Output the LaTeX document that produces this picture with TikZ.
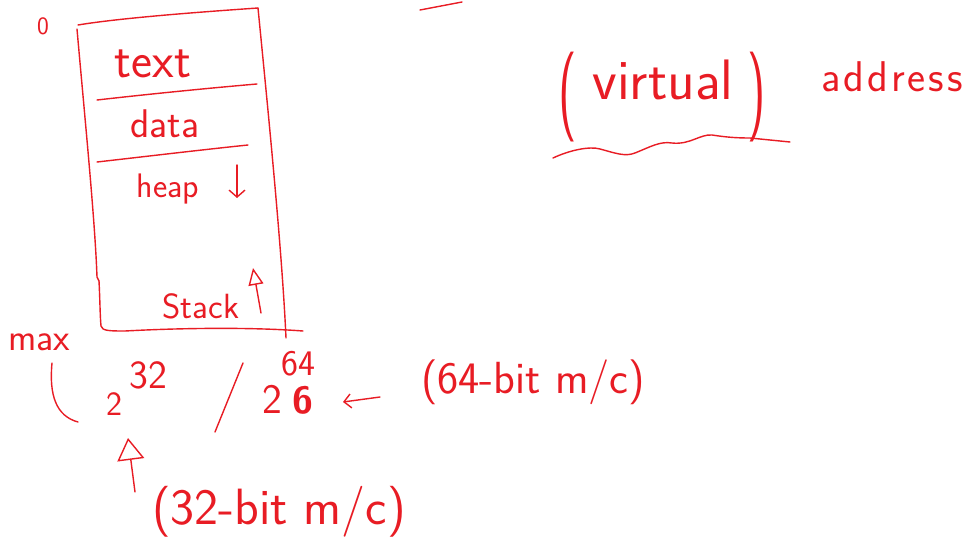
\documentclass[tikz,border=0pt]{standalone}
\usetikzlibrary{arrows.meta}
\definecolor{ink}{RGB}{232,28,36}
\newcommand\myfs[1]{\fontsize{#1}{#1}\selectfont}
\begin{document}
\begin{tikzpicture}[x=1pt,y=-1pt,
  pen/.style={draw=ink, line width=1.4pt, line cap=round, line join=round},
  lbl/.style={text=ink, inner sep=0pt, anchor=base},
  every node/.style={font=\sffamily}]
\useasboundingbox[fill=white] (0,0) rectangle (968,540);

% ---- memory layout box ----
\draw[pen] (78,25) .. controls (120,18) and (200,12) .. (258,8);
\draw[pen] (258,8) .. controls (268,110) and (282,250) .. (286,338);
\draw[pen] (77,29) .. controls (85,120) and (95,220) .. (97,277) -- (99,281);
\draw[pen] (99,281) .. controls (100,300) and (100,315) .. (101,326)
  .. controls (102,331) and (110,331) .. (125,331)
  .. controls (180,328) and (250,327) .. (303,331);
\draw[pen] (97,100) .. controls (150,94) and (210,88) .. (257,84);
\draw[pen] (97,162) .. controls (150,156) and (200,150) .. (248,145);

\node[lbl, font=\sffamily\myfs{25}] (zero) at (43,35) {0};
\node[lbl, font=\sffamily\myfs{50}] (textseg) at (153,78) {text};
\node[lbl, font=\sffamily\myfs{40}] (dataseg) at (165,138) {data};
\node[lbl, font=\sffamily\myfs{34}] (heapseg) at (168,197) {heap};
\node[lbl, font=\sffamily\myfs{35}] (stackseg) at (201,318) {Stack};

\coordinate (heapTail) at (237,165);
\coordinate (heapTip) at (237,198);
\draw[pen, -{Straight Barb[length=7pt,width=16pt]}] (heapTail) -- (heapTip);
\coordinate (stackTail) at (261,313);
\coordinate (stackTip) at (253,268);
\draw[pen, -{Triangle[open,length=17pt,width=15pt]}] (stackTail) -- (stackTip);

% ---- max address ----
\node[lbl, font=\sffamily\myfs{38}] (maxlbl) at (39,350) {max};
\draw[pen] (52,363) .. controls (49,395) and (56,416) .. (78,422);
\node[lbl, font=\sffamily\myfs{34}] (twoA) at (114,415) {2};
\node[lbl, font=\sffamily\myfs{40}] (expA) at (148,388) {32};
\draw[pen] (243,363) -- (215,432);
\node[lbl, font=\sffamily\myfs{42}] (twoB) at (272,413) {2};
\node[lbl, font=\sffamily\myfs{36}] (expB) at (298,375) {64};
\node[lbl, font=\sffamily\bfseries\myfs{38}] (scrib) at (303,413) {6};

\coordinate (arrTail) at (380,397);
\coordinate (arrTip) at (343,402);
\draw[pen, -{Straight Barb[length=7pt,width=14pt]}] (arrTail) -- (arrTip);
\node[lbl, font=\sffamily\myfs{45}] (bit64) at (533,393) {(64-bit m/c)};

\coordinate (upTail) at (135,492);
\coordinate (upTip) at (128,438);
\draw[pen, -{Triangle[open,length=22pt,width=27pt]}] (upTail) -- (upTip);
\node[lbl, font=\sffamily\myfs{51}] (bit32) at (279,524) {(32-bit m/c)};

% ---- (virtual) address ----
\draw[pen] (420,10) -- (462,2);
\node[lbl, font=\sffamily] (virt) at (662,100)
  {\raisebox{-20pt}{\scalebox{1.4}[2.5]{\myfs{36}(}}\hspace{16pt}{\myfs{57}virtual}\hspace{14pt}\raisebox{-20pt}{\scalebox{1.4}[2.5]{\myfs{36})}}};
\node[lbl, font=\sffamily\myfs{43}] (addr) at (892,92) {a\kern3pt d\kern3pt d\kern3pt r\kern3pt e\kern3pt s\kern3pt s};
\draw[pen] (553,158) .. controls (570,150) and (590,146) .. (600,149)
  .. controls (615,153) and (625,157) .. (635,153)
  .. controls (650,147) and (660,141) .. (672,143)
  .. controls (690,145) and (700,134) .. (712,135)
  .. controls (725,137) and (735,138) .. (750,138)
  -- (790,142);
\end{tikzpicture}
\end{document}
